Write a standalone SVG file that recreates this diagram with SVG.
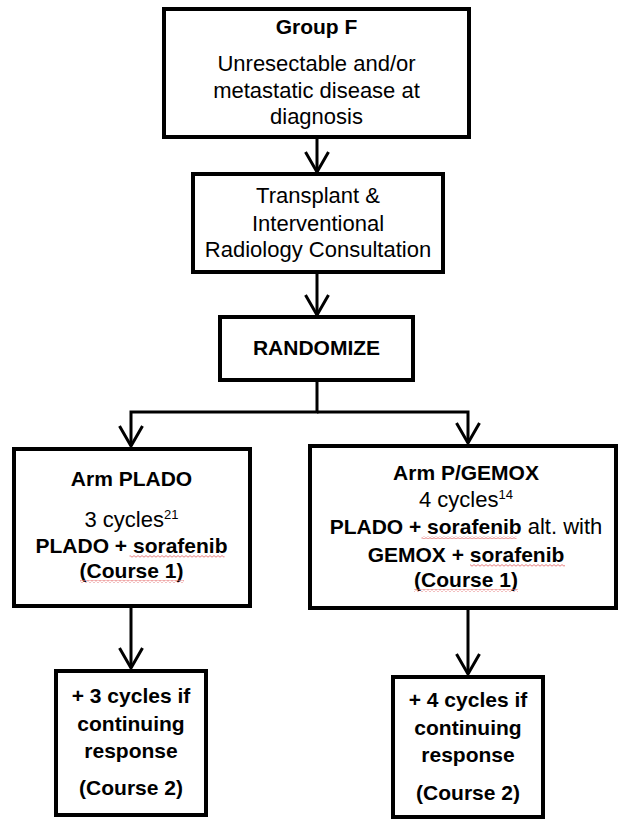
<svg xmlns="http://www.w3.org/2000/svg" width="619" height="819" viewBox="0 0 619 819">
<style>
.box{fill:#fff;stroke:#000;stroke-width:4}
.t{font-family:"Liberation Sans",Arial,sans-serif;font-size:22px;fill:#000;text-anchor:middle}
.b{font-weight:bold;font-size:21px}
.sup{font-size:13px}
.con{fill:none;stroke:#000;stroke-width:3}
</style>
<defs>
<marker id="arr" markerUnits="userSpaceOnUse" viewBox="-24 -15 28 30" refX="0" refY="0" markerWidth="28" markerHeight="30" orient="auto">
<path d="M-20,-11.5 L0,0 L-20,11.5" fill="none" stroke="#000" stroke-width="3"/>
</marker>
<pattern id="sq" width="4" height="3" patternUnits="userSpaceOnUse">
<path d="M0,2.2 L2,0.6 L4,2.2" fill="none" stroke="#e57373" stroke-width="0.9"/>
</pattern>
</defs>
<rect width="619" height="819" fill="#fff"/>
<g id="connectors">
<path class="con" d="M317,139 V172" marker-end="url(#arr)"/>
<path class="con" d="M317,274 V315" marker-end="url(#arr)"/>
<path class="con" d="M317,382 V412 H131 V446" marker-end="url(#arr)"/>
<path class="con" d="M317,412 H468 V443" marker-end="url(#arr)"/>
<path class="con" d="M131,608 V668" marker-end="url(#arr)"/>
<path class="con" d="M468,610 V674" marker-end="url(#arr)"/>
</g>
<g id="groupF">
<rect class="box" x="164" y="9" width="305" height="128"/>
<text class="t b" x="316.5" y="34">Group F</text>
<text class="t" x="316.5" y="71">Unresectable and/or</text>
<text class="t" x="316.5" y="98">metastatic disease at</text>
<text class="t" x="316.5" y="124">diagnosis</text>
</g>
<g id="consult">
<rect class="box" x="193" y="174" width="250" height="98"/>
<text class="t" x="318" y="203">Transplant &amp;</text>
<text class="t" x="318" y="231">Interventional</text>
<text class="t" x="318" y="257">Radiology Consultation</text>
</g>
<g id="randomize">
<rect class="box" x="220" y="317" width="193" height="63"/>
<text class="t b" x="316.5" y="355">RANDOMIZE</text>
</g>
<g id="armPlado">
<rect class="box" x="14" y="449" width="236" height="157"/>
<text class="t b" x="131.5" y="486">Arm PLADO</text>
<text class="t" x="131.5" y="527">3 cycles<tspan class="sup" dy="-8">21</tspan></text>
<text class="t b" x="131.5" y="553">PLADO + sorafenib</text>
<text class="t b" x="131.5" y="578">(Course 1)</text>
<rect x="129.5" y="555" width="95" height="3" fill="url(#sq)"/>
<rect x="80" y="580" width="104" height="3" fill="url(#sq)"/>
</g>
<g id="armPGemox">
<rect class="box" x="310" y="446" width="306" height="162"/>
<text class="t b" x="466" y="480">Arm P/GEMOX</text>
<text class="t" x="466" y="507">4 cycles<tspan class="sup" dy="-8">14</tspan></text>
<text class="t" x="466" y="534"><tspan font-weight="bold" font-size="21">PLADO + sorafenib</tspan> alt. with</text>
<text class="t b" x="466" y="562">GEMOX + sorafenib</text>
<text class="t b" x="466" y="587">(Course 1)</text>
<rect x="421.5" y="536" width="95" height="3" fill="url(#sq)"/>
<rect x="470" y="564" width="95" height="3" fill="url(#sq)"/>
<rect x="414" y="589" width="104" height="3" fill="url(#sq)"/>
</g>
<g id="course2Left">
<rect class="box" x="56" y="671" width="150" height="144"/>
<text class="t b" x="131" y="703">+ 3 cycles if</text>
<text class="t b" x="131" y="731">continuing</text>
<text class="t b" x="131" y="758">response</text>
<text class="t b" x="131" y="795">(Course 2)</text>
</g>
<g id="course2Right">
<rect class="box" x="393" y="677" width="150" height="140"/>
<text class="t b" x="468" y="707">+ 4 cycles if</text>
<text class="t b" x="468" y="735">continuing</text>
<text class="t b" x="468" y="762">response</text>
<text class="t b" x="468" y="800">(Course 2)</text>
</g>
</svg>
